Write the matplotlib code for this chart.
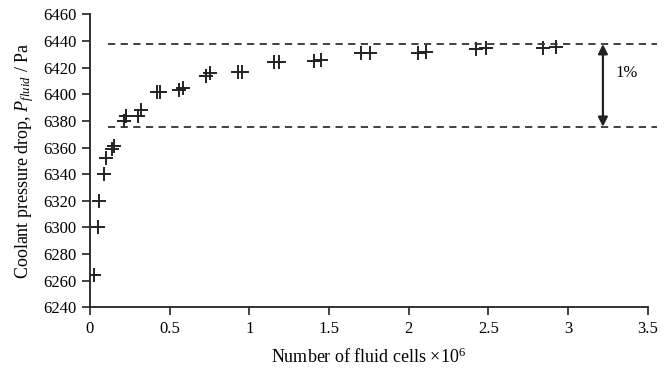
import matplotlib.pyplot as plt

plt.rcParams['font.family'] = 'Liberation Serif'
plt.rcParams['mathtext.fontset'] = 'custom'
plt.rcParams['mathtext.rm'] = 'Liberation Serif'
plt.rcParams['mathtext.it'] = 'Liberation Serif:italic'

# mesh size (millions of cells) and pressure drop (Pa)
cells = [0.025, 0.052, 0.057, 0.088, 0.10, 0.14, 0.155, 0.213, 0.23,
         0.303, 0.324, 0.422, 0.439, 0.558, 0.585, 0.727, 0.752, 0.93,
         0.955, 1.154, 1.185, 1.406, 1.453, 1.703, 1.755, 2.058, 2.11,
         2.424, 2.487, 2.842, 2.926]
pressure = [6264, 6300, 6320, 6340, 6352, 6359, 6361, 6380, 6384,
            6384, 6388, 6401.5, 6401.5, 6403, 6405, 6413.6, 6415.7, 6417,
            6417, 6424, 6424, 6424.7, 6425.7, 6430.7, 6430.7, 6430.7, 6431.9,
            6433.7, 6434.5, 6434.5, 6435.6]

upper_band = 6437.7
lower_band = 6375.6
band_x = (0.113, 3.555)
arrow_x = 3.218

fig = plt.figure(figsize=(6.7, 3.69), dpi=100)
ax = fig.add_axes([0.134, 0.167, 0.833, 0.794])

ax.plot(cells, pressure, linestyle='none', marker='+', markersize=10,
        markeredgewidth=1.4, color='#222222')

for yv in (upper_band, lower_band):
    ax.plot(band_x, [yv, yv], linestyle=(0, (4, 3)), color='#333333',
            linewidth=1.3, clip_on=False)

ax.annotate('', xy=(arrow_x, upper_band), xytext=(arrow_x, lower_band),
            arrowprops=dict(arrowstyle='<|-|>', color='#222222', lw=1.6,
                            mutation_scale=14, shrinkA=0, shrinkB=0))
ax.text(3.37, 6416, '1%', fontsize=12, ha='center', va='center')

ax.set_xlim(0, 3.5)
ax.set_ylim(6240, 6460)
ax.set_xticks([0, 0.5, 1, 1.5, 2, 2.5, 3, 3.5])
ax.set_xticklabels(['0', '0.5', '1', '1.5', '2', '2.5', '3', '3.5'])
ax.set_yticks(range(6240, 6461, 20))

for s in ('top', 'right'):
    ax.spines[s].set_visible(False)
for s in ('left', 'bottom'):
    ax.spines[s].set_linewidth(1.3)
    ax.spines[s].set_color('#222222')
ax.tick_params(direction='out', length=6, width=1.2, labelsize=12,
               color='#222222')

ax.set_xlabel(r'Number of fluid cells $\times$10$^{6}$', fontsize=13, labelpad=8)
ax.set_ylabel(r'Coolant pressure drop, $P_{fluid}$ / Pa', fontsize=13, labelpad=5)

plt.savefig('out.png', dpi=100)
